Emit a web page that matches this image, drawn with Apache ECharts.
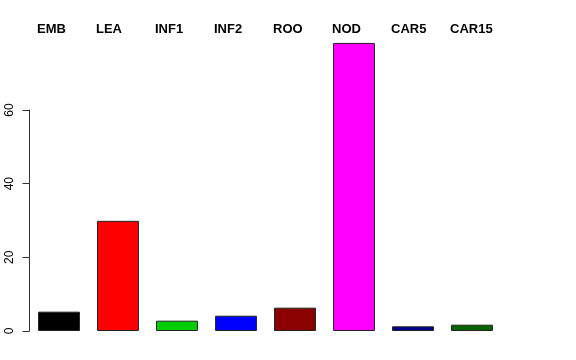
<!DOCTYPE html>
<html><head><meta charset="utf-8">
<script src="https://cdn.jsdelivr.net/npm/echarts@6/dist/echarts.min.js"></script>
<style>html,body{margin:0;padding:0;background:#fff}#c{width:576px;height:360px}</style>
</head><body><div id="c"></div>
<script>
const categories = ['EMB','LEA','INF1','INF2','ROO','NOD','CAR5','CAR15'];
const values = [5.25, 29.9, 2.8, 4.15, 6.33, 78.2, 1.27, 1.71];
const colors = ['#000000','#FF0000','#00CD00','#0000FF','#8B0000','#FF00FF','#00008B','#006400'];
const yTicks = [0, 20, 40, 60];

const chart = echarts.init(document.getElementById('c'), null, {renderer:'canvas'});
const font = 'Liberation Sans, Arial, Helvetica, sans-serif';
chart.setOption({
  animation: false,
  backgroundColor: '#fff',
  grid: [
    {left: 29.5, width: 472, top: 36.3, bottom: 29},
    {left: 29.5, width: 472, top: 110, bottom: 29},
    {left: 7.5, width: 472, top: 36.3, bottom: 29}
  ],
  xAxis: [
    {type:'category', data: categories, gridIndex:0, show:false},
    {type:'category', data: categories, gridIndex:1, show:false},
    {type:'category', data: categories, gridIndex:2, position:'top',
     axisLine:{show:false}, axisTick:{show:false},
     axisLabel:{show:true, align:'left', margin:0, fontFamily:font, fontWeight:'bold', fontSize:13, color:'#000', interval:0}}
  ],
  yAxis: [
    {type:'value', gridIndex:0, min:0, max:80, show:false},
    {type:'value', gridIndex:1, min:0, max:60, interval:20,
     axisLine:{show:true, lineStyle:{color:'#333', width:1}},
     axisTick:{show:true, length:7, lineStyle:{color:'#333'}},
     splitLine:{show:false},
     axisLabel:{rotate:90, margin:14, fontFamily:font, fontSize:12, color:'#000',
       formatter: v => yTicks.includes(v) ? String(v) : ''}},
    {type:'value', gridIndex:2, min:0, max:80, show:false}
  ],
  series: [{
    type:'bar', xAxisIndex:0, yAxisIndex:0,
    barCategoryGap:'29%',
    data: values.map((v,i)=>({value:v, itemStyle:{color:colors[i]}})),
    itemStyle:{borderColor:'#222', borderWidth:1}
  }]
});
</script></body></html>
